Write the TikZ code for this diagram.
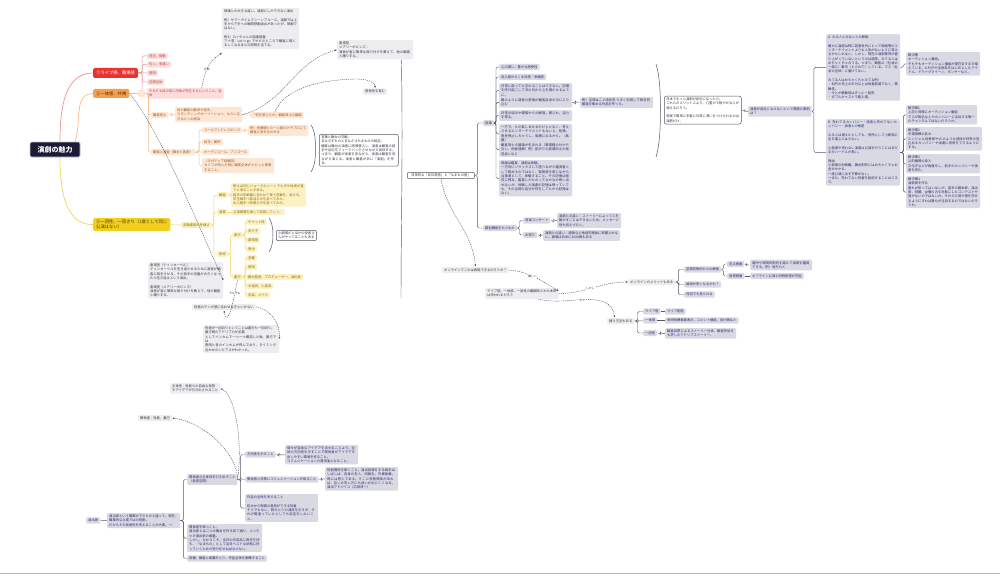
\documentclass[tikz,border=0pt]{standalone}
\usepackage{fontspec}
\setmainfont{Noto Sans CJK JP}
\XeTeXlinebreaklocale "ja"
\XeTeXlinebreakskip=0pt plus 0.6pt
\usetikzlibrary{arrows.meta,calc}
\definecolor{navyc}{HTML}{1B1B38}
\definecolor{lavf}{HTML}{D9D9E4}
\definecolor{navyt}{HTML}{2A2A66}
\definecolor{lgrayf}{HTML}{EDEDF0}
\definecolor{darkt}{HTML}{35353F}
\definecolor{edgec}{HTML}{55555F}
\definecolor{pinkf}{HTML}{FCDDDD}
\definecolor{pinkt}{HTML}{C23B3B}
\definecolor{pinkl}{HTML}{F39191}
\definecolor{redb}{HTML}{E8332E}
\definecolor{orgf}{HTML}{FDE6D3}
\definecolor{orgt}{HTML}{A3561E}
\definecolor{orgl}{HTML}{F6BB88}
\definecolor{orgb}{HTML}{F5A04C}
\definecolor{orgbt}{HTML}{4A2608}
\definecolor{ylwf}{HTML}{FCF1C3}
\definecolor{ylwt}{HTML}{8A6A00}
\definecolor{ylwl}{HTML}{F1D35E}
\definecolor{ylwb}{HTML}{F2CE1F}
\definecolor{ylwbt}{HTML}{4A3A00}
\definecolor{lnc}{HTML}{55556A}
\definecolor{relc}{HTML}{4A4A55}
\newcommand\mmfs{\fontsize{3.3}{4.3}\selectfont}
\newcommand\mmsm{\fontsize{2.8}{3.3}\selectfont}
\newcommand\mmbr{\fontsize{4.3}{5.3}\selectfont}
\tikzset{
 mmbase/.style={inner xsep=2pt, inner ysep=1.6pt, rounded corners=1.2pt, font=\mmfs, align=left},
 mmgb/.style={mmbase, fill=lavf, text=navyt},
 mmlb/.style={mmbase, fill=lgrayf, text=darkt},
 mmwb/.style={mmbase, fill=white, draw=edgec, line width=0.5pt, rounded corners=2pt, text=darkt},
 mmpk/.style={mmbase, fill=pinkf, text=pinkt},
 mmog/.style={mmbase, fill=orgf, text=orgt},
 mmyl/.style={mmbase, fill=ylwf, text=ylwt},
 mmbranch/.style={inner xsep=3pt, inner ysep=1.8pt, rounded corners=1.5pt, font=\mmbr, align=left},
 mmln/.style={draw=lnc, line width=0.45pt, rounded corners=1.5pt},
 mmpl/.style={draw=pinkl, line width=0.5pt, rounded corners=1.5pt},
 mmol/.style={draw=orgl, line width=0.5pt, rounded corners=1.5pt},
 mmyll/.style={draw=ylwl, line width=0.5pt, rounded corners=1.5pt},
 mmrel/.style={draw=relc, line width=0.4pt, dash pattern=on 1.2pt off 0.9pt, -{Latex[length=2.2pt,width=1.8pt]}},
 mmlab/.style={font=\mmsm, text=darkt, fill=white, inner sep=0.4pt},
 mmbrace/.style={draw=lnc, line width=0.5pt},
}
\begin{document}
\begin{tikzpicture}[x=1pt,y=-1pt]
\useasboundingbox (0,0) rectangle (1000,575);
\fill[white] (0,0) rectangle (1000,575);
\draw[gray!55, line width=0.8pt] (0,573.6) -- (1000,573.6);

% ---------- central and main branches
\node[fill=navyc, draw=gray!45, line width=0.7pt, rounded corners=1.5pt, text=white, font=\fontsize{7}{8}\selectfont\bfseries, minimum width=50pt, minimum height=15pt, inner sep=0pt] (c) at (55,149.5) {演劇の魅力};
\node[mmbranch, fill=redb, text=white, anchor=west, minimum height=10pt] (b1) at (93,73) {①ライブ感、臨場感};
\node[mmbranch, fill=orgb, text=orgbt, anchor=west, minimum height=9pt] (b2) at (93,93.5) {②一体感、共鳴};
\node[mmbranch, fill=ylwb, text=ylwbt, anchor=north west] (b3) at (93,218) {③一回性、一回きり（1度として同じ\\公演はない）};
\draw[pinkl, line width=0.7pt] ([xshift=5pt]c.north) to[out=90,in=180] (b1.west);
\draw[orgl, line width=0.7pt] ([xshift=20pt]c.north) to[out=70,in=180] (b2.west);
\draw[ylwl, line width=0.7pt] ([xshift=5pt]c.south) to[out=-90,in=180] (b3.west);

% ---------- branch 1
\node[mmpk, anchor=west] (p1) at (147,56) {音圧、振動};
\node[mmpk, anchor=west] (p2) at (147,64.5) {匂い、息遣い};
\node[mmpk, anchor=west] (p3) at (147,73) {照明};
\node[mmpk, anchor=west] (p4) at (147,82) {空間全体};
\node[mmpk, anchor=north west] (p5) at (147,88) {そもそも目の前に肉体が存在するということ、自\\体};
\foreach \q in {p1,p2,p3,p4,p5} \draw[mmpl] (b1.east) -- ++(4,0) |- (\q.west);

\node[mmlb, anchor=north west, text width=73pt] (g1) at (222,8) {映画との大きな違い。演劇にしかできない演出\\[4.3pt]例）サマータイムマシーンブルース。演劇では上手から下手への瞬間移動演出があったが、映画ではない。\\[4.3pt]例2）ロッちゃんの結婚披露\\アナ雪：Let it go でサビのところで観客に眩くるしくなるほどの照明を当てる。};
\draw[mmrel] ([xshift=-22pt]p5.north east) to[out=80,in=-150] node[mmlab,pos=.45]{比較} ([yshift=-4pt]g1.south west);

% ---------- branch 2
\node[mmog, anchor=west, minimum width=7pt, minimum height=7pt] (e2) at (138,93.5) {};
\draw[mmol] (b2.east) -- (e2.west);
\node[mmog, anchor=west] (o1) at (151,115) {観客同士};
\node[mmog, anchor=west] (o2) at (151,152) {観客と演者（舞台と客席）};
\draw[mmol] (e2.east) -- ++(3,0) |- (o1.west);
\draw[mmol] (e2.east) -- ++(3,0) |- (o2.west);
\node[mmog, anchor=north west, text width=63pt] (o3) at (175,107) {他の観客の歓声や拍手、\\スタンディングオーベーション、もらい泣きなどへの感染};
\node[mmog, anchor=west] (o4) at (250,115) {「何を感じたか」観客同士の議論};
\draw[mmol] (o1.east) -- ++(3,0) |- (o3.west);
\draw[mmol] (o3.east) -- (o4.west);
\node[mmog, anchor=west] (o5) at (202,130) {コールアンドレスポンス};
\node[mmog, anchor=north west] (o6) at (248,125) {例）佐藤健との一人劇のグチプロにて\\観客と息を合わせる};
\node[mmog, anchor=west] (o7) at (202,142) {拍手、歓声};
\node[mmog, anchor=west] (o8) at (202,152) {カーテンコール、アンコール};
\node[mmog, anchor=north west, text width=68pt] (o9) at (202,158) {（ネガティブ経験談）\\セリフが飛んだ時に観客全体がビビッと緊張すること。};
\foreach \q in {o5,o7,o8,o9} \draw[mmol] (o2.east) -- ++(4,0) |- (\q.west);
\draw[mmol] (o5.east) -- ++(2,0) |- (o6.west);
\draw[mmbrace] (311,125) .. controls (315,131) and (315.5,140) .. (315.5,148.5) .. controls (315.5,157) and (315,166) .. (311,172);
\node[mmwb, anchor=north west, text width=75pt] (w1) at (319,134) {言葉と舞台の交歓。\\まなざすものとまなざされるものの相互。\\観客は舞台の演者に感情移入し、演者は観客の拍手や反応をフィードバックさせながら演技する。つまり、観客が演者を見ながら、演者は観客を見ながら演じる。演者と観客が共に「演劇」を作る。};

\node[mmlb, anchor=north west, text width=72pt] (g2) at (337,40) {劇場型\\メアリーポピンズ：\\演者が客に簡単な振り付けを教えて、他の観客と踊りする。};
\node[mmlb, anchor=west] (g3) at (363,91.5) {感受性を育む};
\draw[mmrel] (o3.east) to[out=15,in=-165] (g2.west);
\draw[mmrel] ([xshift=-2pt]o4.north) .. controls (285,88) and (320,80) .. (355,79) .. controls (370,79) and (375,83) .. (g3.north);
\draw[mmln] ([xshift=-12pt]g2.south east) .. controls (403,150) and (401,230) .. (401,298);

% ---------- branch 3
\node[mmyl, anchor=west] (y1) at (181,225) {変動要因の多様さ};
\draw[mmyll] (b3.east) -- (y1.west);
\node[mmyl, anchor=west] (y2) at (217,195) {観客};
\node[mmyl, anchor=west] (y4) at (217,212) {演者};
\node[mmyl, anchor=west] (y6) at (217,254) {制作};
\foreach \q in {y2,y4,y6} \draw[mmyll] (y1.east) -- ++(2,0) |- (\q.west);
\node[mmyl, anchor=north west, text width=71pt] (y3) at (231,183) {例えば同じジョークのシーンでも日や地域が違うと滑ることがある。\\相手の年齢層に合わせて使う言葉を、変える。\\学生相手→部活ネタを並べてみた。\\大人相手→時事ネタを並べてみた。};
\node[mmyl, anchor=west] (y5) at (231,212) {公演期間を通じて成長していく。};
\draw[mmyll] (y2.east) -- ++(2,0) |- (y3.west);
\draw[mmyll] (y4.east) -- (y5.west);
\node[mmyl, anchor=west] (y7) at (232,235) {表方};
\node[mmyl, anchor=west] (y12) at (232,277) {裏方};
\draw[mmyll] (y6.east) -- ++(2.5,0) |- (y7.west);
\draw[mmyll] (y6.east) -- ++(2.5,0) |- (y12.west);
\node[mmyl, anchor=west] (y8) at (246,222) {チケット係};
\node[mmyl, anchor=west] (y9) at (246,231) {売り子};
\node[mmyl, anchor=west] (y10) at (246,240) {誘導係};
\node[mmyl, anchor=west] (y11) at (246,249) {受付};
\foreach \q in {y8,y9,y10,y11} \draw[mmyll] (y7.east) -- ++(2,0) |- (\q.west);
\node[mmyl, anchor=west] (y13) at (246,258) {音響};
\node[mmyl, anchor=west] (y14) at (246,267) {照明};
\node[mmyl, anchor=west] (y15) at (246,277) {舞台監督、プロデューサー、演出家};
\node[mmyl, anchor=west] (y16) at (246,286) {大道具、小道具};
\node[mmyl, anchor=west] (y17) at (246,295) {衣装、メイク};
\foreach \q in {y13,y14,y15,y16,y17} \draw[mmyll] (y12.east) -- ++(2,0) |- (\q.west);
\draw[mmbrace] (269,218) .. controls (272,222) and (273,229) .. (273,235) .. controls (273,241) and (272,248) .. (269,252);
\node[mmwb, anchor=north west] (w2) at (276,230) {小劇場だとほかの役者さ\\んがやってることもある};

\node[mmlb, anchor=north west, text width=71pt] (g4) at (148,262) {劇場型（ティンカーベル）\\ティンカーベルを生き返らせるために演者が観客に拍手させる。その拍手の音量が大きくなったら生き返るという演出。\\[4.3pt]劇場型（メアリーポピンズ）\\演者が客に簡単な振り付けを教えて、他の観客と踊りする。};
\draw[mmrel] (b2.east) .. controls (160,130) and (200,230) .. (g4.east);
\node[mmlb, anchor=west] (g5) at (192,307) {役者のテンポ感に合わせなきゃいけない};
\draw[mmrel] (y12.south) .. controls (234,298) and (228,330) .. node[mmlab,pos=.22]{そもそも} (g5.south);
\node[mmlb, anchor=north west, text width=72pt] (g6) at (203,325) {役者が一回切りということは裏方も一回切り。\\裏方側のアドリブ力が必要\\としてインカムで一つ一つ確認した後、裏方では\\照明と音のインカムが飛んでおり、タイミング合わせのシビアさがわかった。};
\draw[mmrel] (g5.east) .. controls (270,309) and (280,322) .. (g6.east);

% ---------- right part
\node[mmwb, anchor=west, inner xsep=4pt] (n0) at (407,175.5) {日常的な「非日常感」と「なまもの感」};
\node[mmgb, anchor=west] (n1) at (483,123) {効果};
\node[mmgb, anchor=west] (n2) at (483,228) {類似機能をもつもの};
\draw[mmln] (n0.east) -- ++(2.5,0) |- (n1.west);
\draw[mmln] (n0.east) -- ++(2.5,0) |- (n2.west);
\node[mmgb, anchor=west] (e1) at (499,67) {心の潤い、豊かな感受性};
\node[mmgb, anchor=west] (e2b) at (499,77) {没入感からくる共感・幸福感};
\node[mmgb, anchor=north west, text width=69pt] (e3) at (499,83) {日常に戻っても忘れることはできない。記憶を呼び起こして次の日から心を満たせるように。};
\node[mmgb, anchor=north west, text width=69pt] (e4) at (499,97) {鏡のように演者の感情が観客自身の中に入り込む};
\node[mmgb, anchor=north west, text width=69pt] (e5) at (499,110) {日常の悩みや雑駁からの解放。癒され、活力を得る。};
\node[mmgb, anchor=north west, text width=69pt] (e6) at (499,124) {一方で、ただ楽しませるだけじゃなく、考えさせるエンターテイメントもないと、危険。思考停止しちゃうし、馬鹿になるから。（馬鹿）};
\node[mmgb, anchor=north west, text width=69pt] (e7) at (499,142) {観客同士の議論が生まれる（異業種の分かち合い、他者理解）例）宮沢りえ劇場同士の発見会いなど};
\node[mmgb, anchor=north west, text width=69pt] (e8) at (499,160) {映画は鑑賞、演劇は体験。\\一方的にリラックスして座りながら鑑賞者として眺めるのではなく、緊張感を感じながら当事者として、体験すること。その記憶は強烈に残る。鑑賞したものってなかなか思い出せないが、体験した演劇の記憶は残っていても、その当時の自分が何をしてたかの記憶はない。};
\foreach \q in {e1,e2b,e3,e4,e5,e6,e7,e8} \draw[mmln] (n1.east) -- ++(2,0) |- (\q.west);
\node[mmgb, anchor=north west, text width=69pt] (e4c) at (580,97) {例）宝塚はこの法則をうまく利用して依存的観客を集める作品を作った。};
\draw[mmln] (e4.east) -- ++(3,0) |- (e4c.west);
\draw[mmbrace] (656,64) .. controls (660,76) and (660.5,98) .. (660.5,110) .. controls (660.5,122) and (660,145) .. (656,157);
\node[mmwb, anchor=north west, text width=73pt] (w3) at (664,96) {日本でもっと演劇が身近になったら。\\これらのメリットにより、心豊かで穏やかな人が増えるだろう。\\[4.3pt]現実で簡単に手軽に日常に潤いをつけられるのは演劇だけ。};
\node[mmgb, anchor=north west] (n3) at (748,106) {演劇が身近にならないという問題の原因\\は？};
\draw[mmln] (w3.east) -- ++(3,0) |- (n3.west);
\node[mmgb, anchor=north west, text width=70pt] (qa) at (826,34) {A. みる人とみない人の断絶\\[4.3pt]確かに演劇は特に若者世代にとって映画等のエンターテイメントよりも人気がないように見えるかもしれない。しかし、現在の演劇業界が盛り上がっていないというのは語弊。みてる人はめちゃくちゃみてる。つまり、観客の（社会の一部に）集中（とられて）している。マス（社会の全体）に届けてない。\\[4.3pt]みてる人はめちゃくちゃみてる例）\\・松竹の売上の半分以上は役者劇場でなく、歌舞伎。\\・今とか歌舞伎はずっと一回売\\・ダブルキャストで銘入場。};
\node[mmgb, anchor=north west, text width=70pt] (qb) at (826,119) {B. 売れてるカンパニー・演者と売れてないカンパニー・演者との格差\\[4.3pt]みる人は増えたとしても、依然として小劇場に足を運ぶ人は少ない。\\[4.3pt]小劇場や売れない演者は公演を行うことはまだまだハードルが高い。\\[4.3pt]理由\\小劇場の財政難。舞台制作にはめちゃくちゃお金がかかる。\\一度公演に出す予算がない。\\→また、売れてない役者を起用することはリスク。};
\draw[mmln] (n3.east) -- ++(2,0) |- (qa.west);
\draw[mmln] (n3.east) -- ++(2,0) |- (qb.west);
\node[mmgb, anchor=north west, text width=70pt] (sa) at (906,52) {解決策\\オーディション番組。\\そもそもオーディション番組が現在ますます増えている。K-POPや宝塚系をはじめとしたアイドル、ドラァグクイーン、ダンサーなど。};
\draw[mmln] (qa.east) -- ++(3,0) |- (sa.west);
\node[mmgb, anchor=north west, text width=67pt] (s1) at (906,105) {解決策1\\上記と同様にオーディション番組\\マスが無名な人やカンパニーに注目する唯一のチャンネルではないだろうか。};
\node[mmgb, anchor=north west, text width=72pt] (s2) at (906,127) {解決策2\\市場規模の拡大\\エンジェル投資家やVCのような団体が将来の見込めるカンパニーや演劇に投資をできるようにする。};
\node[mmgb, anchor=north west, text width=70pt] (s3) at (906,154) {解決策3\\公的機関の投入\\文化庁などが後援をし、若手のカンパニーや演者を育む。};
\node[mmgb, anchor=north west, text width=70pt] (s4) at (906,176) {解決策4\\演劇賞を作る\\誰もが知ってはいないが、若手の脚本家、演出家、俳優、女優のみを対象にしたコンテストや賞がないのではないか。それらの賞や場を任せるようにすれば誰もが注目するのではないだろうか。};
\foreach \q in {s1,s2,s3,s4} \draw[mmln] (qb.east) -- ++(3,0) |- (\q.west);

\node[mmgb, anchor=west] (f1) at (523,220.5) {音楽コンサート};
\node[mmgb, anchor=west] (f3) at (523,235) {お祭り};
\draw[mmln] (n2.east) -- ++(2.5,0) |- (f1.west);
\draw[mmln] (n2.east) -- ++(2.5,0) |- (f3.west);
\node[mmgb, anchor=north west, text width=60pt] (f2) at (557,213) {演劇との違い：ストーリーによって人を動かすことはできないため、メッセージ性も伝えづらい。};
\node[mmgb, anchor=north west, text width=73pt] (f4) at (543,230) {演劇との違い：過疎など地域的理由に影響されない。劇場は日本に1000個もある};
\draw[mmln] (f1.east) -- ++(3,0) |- (f2.west);
\draw[mmln] (f3.east) -- ++(3,0) |- (f4.west);

% ---------- online part
\node[mmlb, anchor=west] (h1) at (442,270) {オンラインでこれは再現できるだろうか？};
\draw[mmrel] (n0.south) to[out=-80,in=95] (h1.north);
\node[mmlb, anchor=north west] (h2) at (485,288) {ライブ感、一体感、一回性の醍醐味どれも本来\\は失われるだろう};
\draw[mmrel] (h1.east) to[out=-5,in=150] node[mmlab,pos=.45]{難しい} ([yshift=-3pt]h2.north east);
\node[mmlb, anchor=west] (h3) at (628,282) {オンラインのメリットもある};
\draw[mmrel] (h2.east) to[out=0,in=180] node[mmlab,pos=.45]{しかし} (h3.west);
\node[mmlb, anchor=west] (h4) at (607,321) {補う方法もある};
\draw[mmrel] ([xshift=16pt]h2.south) to[out=-15,in=100] node[mmlab,pos=.45]{一方で} ([xshift=-6pt]h4.north);
\node[mmgb, anchor=west] (i1) at (684,269.5) {空間的制約からの解放};
\node[mmgb, anchor=west] (i6) at (684,284.5) {値段が安くなるかも？};
\node[mmgb, anchor=west] (i7) at (684,294.5) {何回でも見られる};
\foreach \q in {i1,i6,i7} \draw[mmln] (h3.east) -- ++(3,0) |- (\q.west);
\node[mmgb, anchor=west] (i2) at (727,264) {見る側面};
\node[mmgb, anchor=west] (i4) at (727,276) {発信側面};
\draw[mmln] (i1.east) -- ++(2,0) |- (i2.west);
\draw[mmln] (i1.east) -- ++(2,0) |- (i4.west);
\node[mmgb, anchor=north west, text width=58pt] (i3) at (750,259.5) {場所や時間的制約を越えて演劇を鑑賞できる。例）地方の人};
\node[mmgb, anchor=west] (i5) at (750,276) {オフライン公演と同時配信が可能};
\draw[mmln] (i2.east) -- ++(2,0) |- (i3.west);
\draw[mmln] (i4.east) -- (i5.west);
\node[mmgb, anchor=west] (j1) at (643,311.5) {ライブ感};
\node[mmgb, anchor=west] (j3) at (643,320.5) {一体感};
\node[mmgb, anchor=west] (j5) at (643,333) {一回性};
\foreach \q in {j1,j3,j5} \draw[mmln] (h4.east) -- ++(3,0) |- (\q.west);
\node[mmgb, anchor=west] (j2) at (665,311.5) {ライブ配信};
\node[mmgb, anchor=west] (j4) at (665,320.5) {同時視聴者数表示、コメント機能、投げ銭など};
\node[mmgb, anchor=north west, text width=67pt] (j6) at (665,328) {観客投票によるストーリー分岐、観客参加をも許したアドリブストーリー。};
\draw[mmln] (j1.east) -- (j2.west);
\draw[mmln] (j3.east) -- (j4.west);
\draw[mmln] (j5.east) -- ++(3,0) |- (j6.west);

% ---------- bottom-left part
\node[mmgb, anchor=west] (k1) at (86,520.5) {演出家};
\node[mmgb, anchor=north west] (k2) at (107,513) {演出家という職業ができたのと違って、現在、\\職業的な立場ではの役割。\\だからその役割性を考えることが大事。→};
\draw[mmln] (k1.east) -- (k2.west);
\node[mmgb, anchor=north west] (k3) at (187,474) {関係者の主体性を引き出すこと\\（創造空間）};
\node[mmgb, anchor=north west, text width=71pt] (k9) at (187,524) {関係者を保つこと。\\演出家とは二つの舞台を作る見て通り、ぶっちゃけ演出家の裁量。\\しかし、だからこそ、当日の完成品に責任を持ち、「なまもの」として当日ベストな状態に持っていくための努力をせねばならない。};
\node[mmgb, anchor=west] (k10) at (187,558.5) {俳優、観客と距離をとり、作品全体を俯瞰すること};
\foreach \q in {k3,k9,k10} \draw[mmln] (k2.east) -- ++(3,0) |- (\q.west);
\node[mmgb, anchor=west] (k4) at (245,454.5) {方向性を示すこと};
\node[mmgb, anchor=west] (k6) at (245,479.5) {関係者と対等にコミュニケーションを取ること};
\node[mmgb, anchor=north west, text width=69pt] (k8) at (245,494) {作品の全体を考えること\\[4.3pt]初めから現場の意見ができる役者\\そうでもない、読みとりの演技を示すが、それが間違っていたとしても否定をしないこと。};
\foreach \q in {k4,k6,k8} \draw[mmln] (k3.east) -- ++(3,0) |- (\q.west);
\node[mmgb, anchor=north west, text width=69pt] (k5) at (285,445) {個々が自由なアイデアを出せることより、全体の方向性を示すことで関係者がアイデアを出しやすい環境を作ること。\\コミュニケーションの潤滑油となること。};
\node[mmgb, anchor=north west, text width=69pt] (k7) at (325,467) {役割関係を築くこと。演出指導をする相手はしばしば、自身の友人、同級生、先輩後輩。時には恩人である。そこに役割関係があれば、互いの言い方にも迷いが出にくくなる。演出アドバイス（広田淳一）};
\draw[mmln] (k4.east) -- ++(3,0) |- (k5.west);
\draw[mmln] (k6.east) -- ++(3,0) |- (k7.west);
\node[mmlb, anchor=west] (k11) at (138,418) {関係者：役者、裏方};
\node[mmlb, anchor=north west] (k12) at (170,383) {主体性：役者らの自由な発想\\やアイデアが引き出されること};
\draw[mmrel] (k3.east) .. controls (238,455) and (205,422) .. (k11.east);
\draw[mmrel] (k3.east) .. controls (243,440) and (235,395) .. (k12.east);
\end{tikzpicture}
\end{document}
